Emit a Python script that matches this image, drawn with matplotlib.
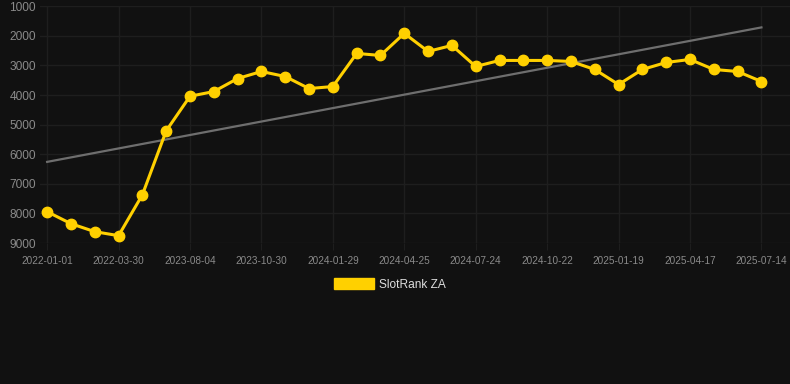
"""
SlotRank ZA rank history, dark theme line chart with trend line.
"""

import numpy as np
import matplotlib
matplotlib.use("Agg")
import matplotlib.pyplot as plt
from matplotlib.patches import Patch

# rank values per sample (lower is better, axis is inverted)
ranks = [7942, 8347, 8617, 8752, 7371, 5209, 4040, 3881, 3441, 3203, 3373,
         3780, 3712, 2593, 2661, 1915, 2525, 2322, 3034, 2830, 2830, 2830,
         2864, 3135, 3644, 3135, 2898, 2797, 3135, 3203, 3542]
tick_labels = ['2022-01-01', '2022-03-30', '2023-08-04', '2023-10-30',
               '2024-01-29', '2024-04-25', '2024-07-24', '2024-10-22',
               '2025-01-19', '2025-04-17', '2025-07-14']
y_ticks = [1000, 2000, 3000, 4000, 5000, 6000, 7000, 8000, 9000]
series_label = 'SlotRank ZA'

BG = '#111111'
GOLD = '#FFD000'
GRID = '#1e1e1e'
TEXT = '#8a8a8a'

plt.rcParams['font.family'] = ['Liberation Sans', 'DejaVu Sans']

fig = plt.figure(figsize=(7.9, 3.84), dpi=100, facecolor=BG)
ax = fig.add_axes([40 / 790, 1 - 243 / 384, 750 / 790, (243 - 6.3) / 384])
ax.set_facecolor(BG)

x = np.arange(len(ranks))

# linear trend across the samples
slope, intercept = np.polyfit(x, ranks, 1)
ax.plot([x[0], x[-1]], [intercept, slope * x[-1] + intercept],
        color='#6e6e6e', linewidth=1.6, zorder=2)

ax.plot(x, ranks, color=GOLD, linewidth=2.2, marker='o', markersize=7.5,
        markerfacecolor=GOLD, markeredgecolor=GOLD, zorder=3)

ax.set_ylim(9000, 1000)
ax.set_xlim(-0.3, 31.2)
ax.set_yticks(y_ticks)
ax.set_yticklabels([str(v) for v in y_ticks])
ax.set_xticks(x[::3])
ax.set_xticklabels(tick_labels)

ax.grid(True, color=GRID, linewidth=1)
ax.set_axisbelow(True)
for spine in ax.spines.values():
    spine.set_visible(False)

ax.tick_params(axis='y', length=0, pad=3, labelsize=8.6, labelcolor=TEXT)
ax.tick_params(axis='x', length=5, color=GRID, pad=4, labelsize=7.2,
               labelcolor=TEXT)

handle = Patch(facecolor=GOLD, edgecolor=GOLD, label=series_label)
fig.legend(handles=[handle], loc='center',
           bbox_to_anchor=(390 / 790, 1 - 284.5 / 384), frameon=False,
           fontsize=8.6, labelcolor='#dddddd', handlelength=3.33,
           handleheight=0.95, handletextpad=0.5)

fig.savefig('out.png', dpi=100, facecolor=BG)
